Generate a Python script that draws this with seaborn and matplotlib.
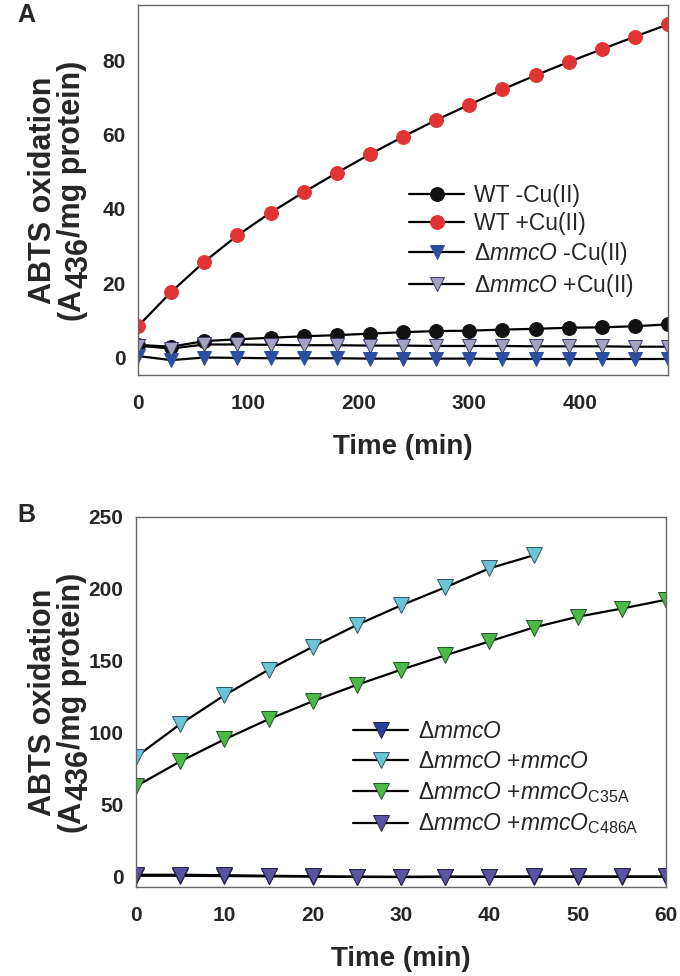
import numpy as np
import pandas as pd
import matplotlib
matplotlib.use('Agg')
import matplotlib.pyplot as plt
import seaborn as sns

sns.set_style('white')
plt.rcParams['font.family'] = ['Liberation Sans', 'DejaVu Sans']
plt.rcParams['mathtext.fontset'] = 'custom'
plt.rcParams['mathtext.rm'] = 'Liberation Sans'
plt.rcParams['mathtext.it'] = 'Liberation Sans:italic'
plt.rcParams['mathtext.bf'] = 'Liberation Sans:bold'

# panel A data (time in min)
time_a = [0, 30, 60, 90, 120, 150, 180, 210, 240, 270, 300, 330, 360, 390, 420, 450, 480]
wt_minus_cu = [3.5, 3.0, 4.5, 5.0, 5.4, 5.8, 6.1, 6.5, 6.9, 7.2, 7.3, 7.6, 7.8, 8.1, 8.2, 8.5, 9.0]
wt_plus_cu = [8.5, 17.7, 25.8, 32.9, 39.0, 44.5, 49.7, 54.7, 59.4, 63.9, 68.0, 72.1, 75.9, 79.5, 82.9, 86.3, 89.6]
mmco_minus_cu = [0.5, -0.6, 0.1, 0.0, -0.1, -0.1, -0.1, -0.2, -0.2, -0.2, -0.2, -0.3, -0.3, -0.3, -0.3, -0.3, -0.3]
mmco_plus_cu = [3.3, 2.5, 3.6, 3.6, 3.5, 3.4, 3.4, 3.3, 3.3, 3.2, 3.2, 3.2, 3.1, 3.1, 3.1, 3.0, 3.0]

# panel B data
time_b = [0, 5, 10, 15, 20, 25, 30, 35, 40, 45, 50, 55, 60]
mmco_only = [0.8, 0.8, 0.6, 0.4, 0.2, 0.0, -0.1, 0.0, 0.0, 0.1, 0.1, 0.1, 0.1]
mmco_comp = [83.4, 106.1, 126.1, 143.9, 159.8, 175.0, 188.6, 201.1, 214.3, 223.4]
mmco_c35a = [63.0, 80.2, 95.5, 109.5, 122.0, 133.4, 143.9, 153.9, 163.6, 173.2, 180.7, 186.4, 192.5]
mmco_c486a = [1.5, 1.5, 1.2, 0.8, 0.5, 0.2, 0.1, 0.2, 0.2, 0.3, 0.3, 0.3, 0.3]

W, H = 680, 976
fig = plt.figure(figsize=(6.8, 9.76), dpi=100)
ax1 = fig.add_axes([138/W, 1-375/H, 530/W, 370/H])
ax2 = fig.add_axes([136/W, 1-887/H, 530/W, 370/H])

def draw(ax, x, y, label, marker, fc, ec='#222222', ms=10):
    sns.lineplot(x=x, y=y, ax=ax, color='black', lw=1.6, marker=marker, markersize=ms,
                 markerfacecolor=fc, markeredgecolor=ec, markeredgewidth=0.7, label=label)

draw(ax1, time_a, wt_minus_cu, 'WT -Cu(II)', 'o', '#111111', '#111111')
draw(ax1, time_a, wt_plus_cu, 'WT +Cu(II)', 'o', '#e03434', '#e03434')
draw(ax1, time_a, mmco_minus_cu, r'$\Delta\it{mmcO}$ -Cu(II)', 'v', '#2c4ea0', '#2c4ea0')
draw(ax1, time_a, mmco_plus_cu, r'$\Delta\it{mmcO}$ +Cu(II)', 'v', '#a3a3bf', '#3a3a70')

draw(ax2, time_b, mmco_only, r'$\Delta\it{mmcO}$', 'v', '#24409a', '#222244', 11)
draw(ax2, time_b[:len(mmco_comp)], mmco_comp, r'$\Delta\it{mmcO}$ +$\it{mmcO}$', 'v', '#6cc4d4', '#335566', 11)
draw(ax2, time_b, mmco_c35a, r'$\Delta\it{mmcO}$ +$\it{mmcO}_{\rm C35A}$', 'v', '#4cb848', '#225522', 11)
draw(ax2, time_b, mmco_c486a, r'$\Delta\it{mmcO}$ +$\it{mmcO}_{\rm C486A}$', 'v', '#5a54a0', '#222244', 11)

ax1.set_xlim(0, 480)
ax1.set_ylim(-4.6, 94.8)
ax1.set_xticks([0, 100, 200, 300, 400])
ax1.set_yticks([0, 20, 40, 60, 80])

ax2.set_xlim(0, 60)
ax2.set_ylim(-7, 250)
ax2.set_xticks([0, 10, 20, 30, 40, 50, 60])
ax2.set_xticks(np.arange(0, 61, 2), minor=True)
ax2.set_yticks([0, 50, 100, 150, 200, 250])

for ax in (ax1, ax2):
    for s in ax.spines.values():
        s.set_color('#666666')
        s.set_linewidth(1.0)
    ax.tick_params(axis='both', which='both', direction='in', color='#444444')
    ax.tick_params(axis='both', which='major', length=6, width=1, labelsize=15)
    ax.tick_params(axis='x', which='minor', length=4, width=0.8)
    ax.tick_params(axis='x', pad=14)
    ax.tick_params(axis='y', pad=9)
    for lab in ax.get_xticklabels() + ax.get_yticklabels():
        lab.set_fontweight('bold')
    ax.set_xlabel('Time (min)', fontsize=20, fontweight='bold', labelpad=15)

ax1.legend(loc='upper left', bbox_to_anchor=(409/W, 1-184/H), bbox_transform=fig.transFigure,
           frameon=False, fontsize=16.5, handlelength=2.4, handletextpad=0.45,
           labelspacing=0.22, borderpad=0, borderaxespad=0)
ax2.legend(loc='upper left', bbox_to_anchor=(353/W, 1-720/H), bbox_transform=fig.transFigure,
           frameon=False, fontsize=16.5, handlelength=2.4, handletextpad=0.45,
           labelspacing=0.3, borderpad=0, borderaxespad=0)

# y label drawn by hand so the 436 keeps full size and sits lowered
renderer = fig.canvas.get_renderer()
ylab_size = 22

def ylabel(ax):
    bb = ax.get_position()
    yc = (bb.y0 + bb.y1) / 2 * H
    fig.text(51/W, yc/H, 'ABTS oxidation', fontsize=ylab_size, fontweight='bold',
             rotation=90, rotation_mode='anchor', ha='center', va='baseline')
    pieces = [('(A', 0), ('436', 7), ('/mg protein)', 0)]
    widths = []
    for txt, _ in pieces:
        tmp = fig.text(0, 0, txt, fontsize=ylab_size, fontweight='bold')
        widths.append(tmp.get_window_extent(renderer).width)
        tmp.remove()
    y = yc - sum(widths) / 2
    for (txt, shift), w in zip(pieces, widths):
        fig.text((80 + shift)/W, y/H, txt, fontsize=ylab_size, fontweight='bold',
                 rotation=90, rotation_mode='anchor', ha='left', va='baseline')
        y += w

ylabel(ax1)
ylabel(ax2)

fig.text(17/W, 1-15/H, 'A', fontsize=18, fontweight='bold', va='center', ha='left')
fig.text(17/W, 1-515/H, 'B', fontsize=18, fontweight='bold', va='center', ha='left')

fig.savefig('out.png', dpi=100, facecolor='white')
